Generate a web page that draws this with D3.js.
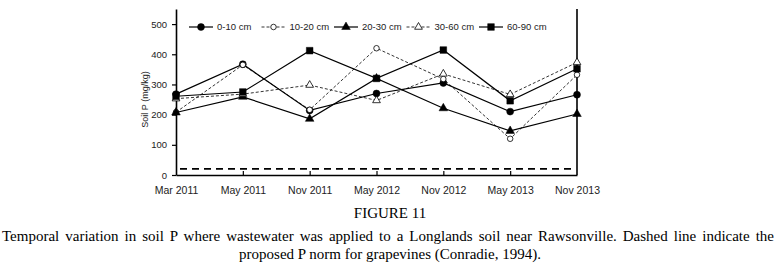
<!DOCTYPE html>
<html>
<head>
<meta charset="utf-8">
<script src="https://cdnjs.cloudflare.com/ajax/libs/d3/7.8.5/d3.min.js"></script>
<style>
    body { margin: 0; background: #fff; }
    svg { display: block; }
    .tick text { font-family: "Liberation Sans", Arial, sans-serif; }
    .caption { font-family: "Liberation Serif", "Times New Roman", serif; font-size: 15px; fill: #000; }
</style>
</head>
<body>
<div id="chart"></div>
<script>
// values (soil P, mg/kg)
var dates = ["Mar 2011", "May 2011", "Nov 2011", "May 2012", "Nov 2012", "May 2013", "Nov 2013"];
var depth0_10 = [268, 367, 214, 270, 305, 210, 266];
var depth10_20 = [208, 365, 216, 420, 318, 120, 332];
var depth20_30 = [207, 259, 186, 320, 221, 146, 202];
var depth30_60 = [253, 268, 298, 247, 335, 267, 373];
var depth60_90 = [261, 275, 412, 320, 414, 246, 352];
var seriesNames = ["0-10 cm", "10-20 cm", "20-30 cm", "30-60 cm", "60-90 cm"];
var pNorm = 20;
var yTicks = [0, 100, 200, 300, 400, 500];
var yMax = 550;

var captionTitle = "FIGURE 11";
var captionLine1 = "Temporal variation in soil P where wastewater was applied to a Longlands soil near Rawsonville. Dashed line indicate the";
var captionLine2 = "proposed P norm for grapevines (Conradie, 1994).";

var series = [
    { name: seriesNames[0], values: depth0_10, dashed: false, symbol: d3.symbolCircle, size: 38, filled: true },
    { name: seriesNames[1], values: depth10_20, dashed: true, symbol: d3.symbolCircle, size: 24, filled: false },
    { name: seriesNames[2], values: depth20_30, dashed: false, symbol: d3.symbolTriangle, size: 32, filled: true },
    { name: seriesNames[3], values: depth30_60, dashed: true, symbol: d3.symbolTriangle, size: 26, filled: false },
    { name: seriesNames[4], values: depth60_90, dashed: false, symbol: d3.symbolSquare, size: 44, filled: true }
];

var width = 780, height = 268;
var margin = { top: 9, left: 176, right: 203, bottom: 93 };
var plotW = width - margin.left - margin.right;
var plotH = height - margin.top - margin.bottom;

var svg = d3.select("#chart").append("svg")
    .attr("width", width)
    .attr("height", height);

var g = svg.append("g")
    .attr("transform", "translate(" + margin.left + "," + margin.top + ")");

var x = d3.scalePoint().domain(dates).range([0, plotW]).padding(0);
var y = d3.scaleLinear().domain([0, yMax]).range([plotH, 0]);

// y axis, ticks outside
var yAxisG = g.append("g")
    .attr("class", "y-axis")
    .call(d3.axisLeft(y).tickValues(yTicks).tickSize(4).tickSizeOuter(0).tickPadding(5));

// x axis, ticks point up into the plot
var xAxisG = g.append("g")
    .attr("class", "x-axis")
    .attr("transform", "translate(0," + plotH + ")")
    .call(d3.axisBottom(x).tickSize(-4).tickSizeOuter(0).tickPadding(12));

xAxisG.selectAll(".tick line")
    .filter(function(d, i) { return i === 0 || i === dates.length - 1; })
    .remove();

[yAxisG, xAxisG].forEach(function(ax){
    ax.select(".domain").attr("stroke", "#000").attr("stroke-width", 1.6);
    ax.selectAll(".tick line").attr("stroke", "#000").attr("stroke-width", 1.2);
    ax.selectAll(".tick text").attr("fill", "#222").style("font-size", "9.5px");
});
xAxisG.selectAll(".tick text").style("font-size", "10.5px");

// right frame line
g.append("line")
    .attr("x1", plotW).attr("x2", plotW)
    .attr("y1", y(yMax)).attr("y2", plotH)
    .attr("stroke", "#000")
    .attr("stroke-width", 1.6);

// y label
g.append("text")
    .attr("transform", "translate(-31," + y(250) + ")rotate(-90)")
    .attr("text-anchor", "middle")
    .attr("dy", "0.35em")
    .style("font-family", "'Liberation Sans', Arial, sans-serif")
    .style("font-size", "9px")
    .attr("fill", "#222")
    .text("Soil P (mg/kg)");

// proposed P norm
g.append("line")
    .attr("x1", 4).attr("x2", plotW - 2)
    .attr("y1", y(pNorm)).attr("y2", y(pNorm))
    .attr("stroke", "#000")
    .attr("stroke-width", 1.8)
    .attr("stroke-dasharray", "7,5");

var line = d3.line()
    .x(function(d, i) { return x(dates[i]); })
    .y(function(d) { return y(d); });

var layer = g.selectAll(".layer")
    .data(series)
    .enter().append("g")
    .attr("class", "layer");

layer.append("path")
    .attr("d", function(d) { return line(d.values); })
    .attr("fill", "none")
    .attr("stroke", "#000")
    .attr("stroke-width", function(d) { return d.dashed ? 0.8 : 1.2; })
    .attr("stroke-dasharray", function(d) { return d.dashed ? "3,2" : null; });

layer.selectAll(".marker")
    .data(function(d) { return d.values.map(function(v, i) { return { v: v, i: i, s: d }; }); })
    .enter().append("path")
    .attr("class", "marker")
    .attr("transform", function(d) { return "translate(" + x(dates[d.i]) + "," + y(d.v) + ")"; })
    .attr("d", function(d) { return d3.symbol().type(d.s.symbol).size(d.s.size)(); })
    .attr("fill", function(d) { return d.s.filled ? "#000" : "#fff"; })
    .attr("stroke", "#000")
    .attr("stroke-width", function(d) { return d.s.filled ? 0.5 : 0.8; });

// legend along the top of the plot
var legend = g.selectAll(".legend")
    .data(series)
    .enter().append("g")
    .attr("class", "legend")
    .attr("transform", function(d, i) { return "translate(" + (25 + i * 72.5) + "," + (27 - margin.top) + ")"; });

legend.append("line")
    .attr("x1", -12).attr("x2", 12)
    .attr("stroke", "#000")
    .attr("stroke-width", function(d) { return d.dashed ? 0.8 : 1.2; })
    .attr("stroke-dasharray", function(d) { return d.dashed ? "3,2" : null; });

legend.append("path")
    .attr("d", function(d) { return d3.symbol().type(d.symbol).size(d.size)(); })
    .attr("fill", function(d) { return d.filled ? "#000" : "#fff"; })
    .attr("stroke", "#000")
    .attr("stroke-width", function(d) { return d.filled ? 0.5 : 0.8; });

legend.append("text")
    .attr("x", 16)
    .attr("dy", "0.35em")
    .style("font-family", "'Liberation Sans', Arial, sans-serif")
    .style("font-size", "9.5px")
    .attr("fill", "#222")
    .text(function(d) { return d.name; });

// caption
svg.append("text")
    .attr("class", "caption")
    .attr("x", width / 2)
    .attr("y", 218)
    .attr("text-anchor", "middle")
    .text(captionTitle);

var cap1 = svg.append("text")
    .attr("class", "caption")
    .attr("x", 2)
    .attr("y", 241)
    .text(captionLine1);

// justify the long line to the page width
var natural = cap1.node().getComputedTextLength();
var gaps = captionLine1.split(" ").length - 1;
cap1.attr("word-spacing", Math.max(0, (width - 8 - natural) / gaps) + "px");

svg.append("text")
    .attr("class", "caption")
    .attr("x", width / 2)
    .attr("y", 259)
    .attr("text-anchor", "middle")
    .text(captionLine2);
</script>
</body>
</html>
